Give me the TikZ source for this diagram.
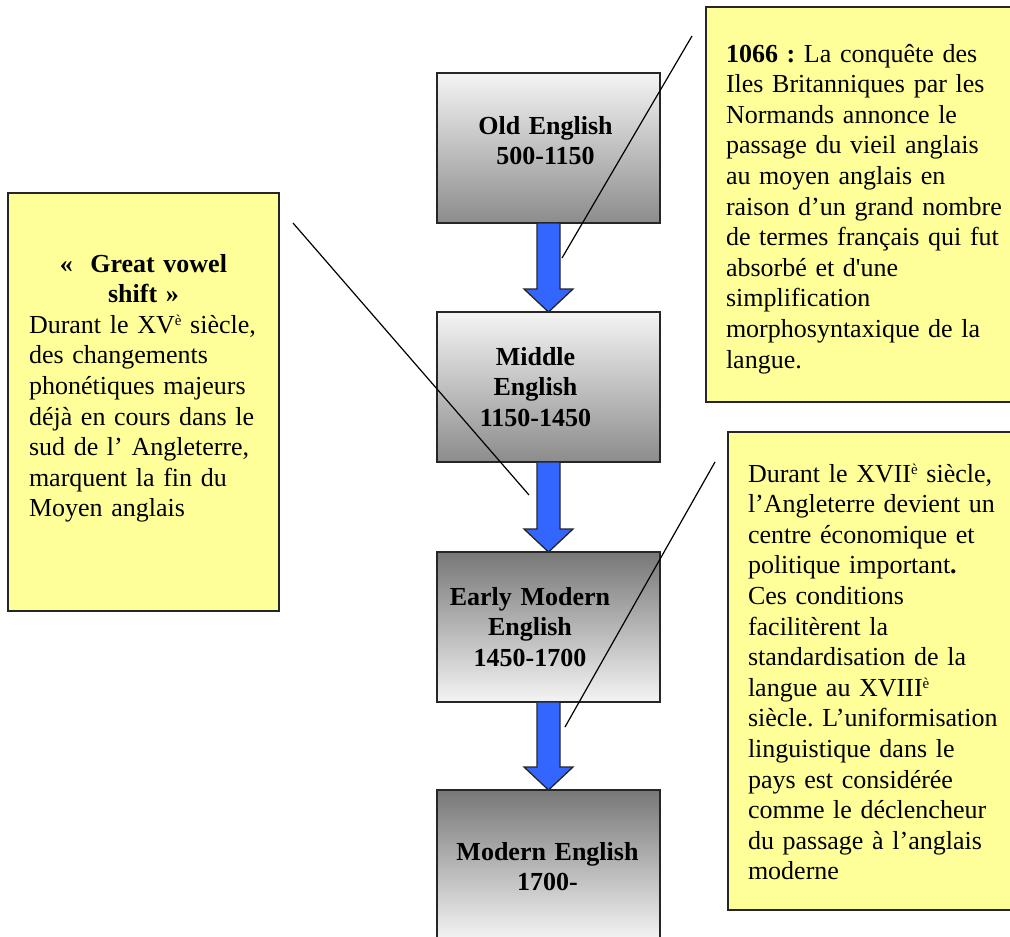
\documentclass[tikz,border=0pt]{standalone}
\usepackage{fontspec}
\setmainfont{Liberation Serif}
\usetikzlibrary{calc}
\definecolor{noteyellow}{HTML}{FFFF99}
\definecolor{flowblue}{HTML}{3366FF}
\definecolor{greylight}{HTML}{F4F4F4}
\definecolor{greydark}{HTML}{8C8C8C}
\definecolor{greytop}{HTML}{777777}
\newcommand\supe{\raisebox{8pt}{\fontsize{15}{15}\selectfont è}}
\newcommand\eraleft[1]{\leftskip=0pt plus 1fil\rightskip=#1 plus 1fil\parfillskip=0pt\relax}
\newcommand\flowarrow[2]{%
  \draw[flow] ($(#1.south)+(-11.5,0)$) -- ($(#2.north)+(-11.5,-23)$)
    -- ($(#2.north)+(-24.5,-23)$) -- (#2.north) -- ($(#2.north)+(24.5,-23)$)
    -- ($(#2.north)+(11.5,-23)$) -- ($(#1.south)+(11.5,0)$) -- cycle;}
\begin{document}
\begin{tikzpicture}[x=1pt,y=-1pt,
  era/.style={draw=black!85, line width=1.3pt, minimum width=223pt,
    minimum height=150pt, inner sep=0pt, outer sep=0pt, text width=223pt,
    align=center, font=\fontsize{26}{30.6}\selectfont\bfseries},
  fadedown/.style={top color=greylight, bottom color=greydark},
  fadeup/.style={top color=greytop, bottom color=greylight},
  note/.style={draw=black!85, line width=1.3pt, fill=noteyellow,
    anchor=north west, outer sep=0pt, inner ysep=0pt, inner xsep=20pt,
    align=left, font=\fontsize{26}{30.6}\selectfont\frenchspacing},
  callout/.style={draw=black, line width=1.2pt},
  flow/.style={fill=flowblue, draw=black!85, line width=1.3pt, line join=miter}
]
\useasboundingbox (0,0) rectangle (1010,937);
\clip (0,0) rectangle (1010,937);
\fill[white] (0,0) rectangle (1010,937);

% era boxes
\node[era, fadedown, text height=61pt, text depth=89pt] (old) at (548.5,148)
  {\eraleft{6pt}Old English\\500-1150\par};
\node[era, fadedown, text height=53pt, text depth=97pt] (mid) at (548.5,387)
  {\eraleft{26pt}Middle\\English\\1150-1450\par};
\node[era, fadeup, text height=53pt, text depth=97pt] (early) at (548.5,627)
  {\eraleft{37pt}Early Modern\\English\\1450-1700\par};
\node[era, fadeup, text height=70pt, text depth=80pt] (modern) at (548.5,865)
  {\eraleft{2pt}Modern English\\1700-\par};

% arrows
\flowarrow{old}{mid}
\flowarrow{mid}{early}
\flowarrow{early}{modern}

% notes
\node[note, inner xsep=21pt, text width=229pt, text height=79pt, text depth=339pt] (gvs) at (8,193)
  {{\centering\bfseries «\ \ Great vowel\\ shift »\par}
   Durant le XV\supe\ siècle,\\
   des changements\\
   phonétiques majeurs\\
   déjà en cours dans le\\
   sud de l’ Angleterre,\\
   marquent la fin du\\
   Moyen anglais};

\node[note, text width=284pt, text height=55pt, text depth=340pt] (norman) at (706,7)
  {\textbf{1066 :} La conquête des\\
   Iles Britanniques par les\\
   Normands annonce le\\
   passage du vieil anglais\\
   au moyen anglais en\\
   raison d’un grand nombre\\
   de termes français qui fut\\
   absorbé et d\textquotesingle une\\
   simplification\\
   morphosyntaxique de la\\
   langue.};

\node[note, text width=284pt, text height=50pt, text depth=428pt] (std) at (728,432)
  {Durant le XVII\supe\ siècle,\\
   l’Angleterre devient un\\
   centre économique et\\
   politique important\textbf{.}\\
   Ces conditions\\
   facilitèrent la\\
   standardisation de la\\
   langue au XVIII\supe\\
   siècle. L’uniformisation\\
   linguistique dans le\\
   pays est considérée\\
   comme le déclencheur\\
   du passage à l’anglais\\
   moderne};

% callout lines
\coordinate (n1) at (692,36);  \coordinate (n1e) at (562,258);
\coordinate (g1) at (293,223); \coordinate (g1e) at (529,495);
\coordinate (s1) at (715,462); \coordinate (s1e) at (565,727);
\draw[callout] (n1) -- (n1e);
\draw[callout] (g1) -- (g1e);
\draw[callout] (s1) -- (s1e);
\end{tikzpicture}
\end{document}
